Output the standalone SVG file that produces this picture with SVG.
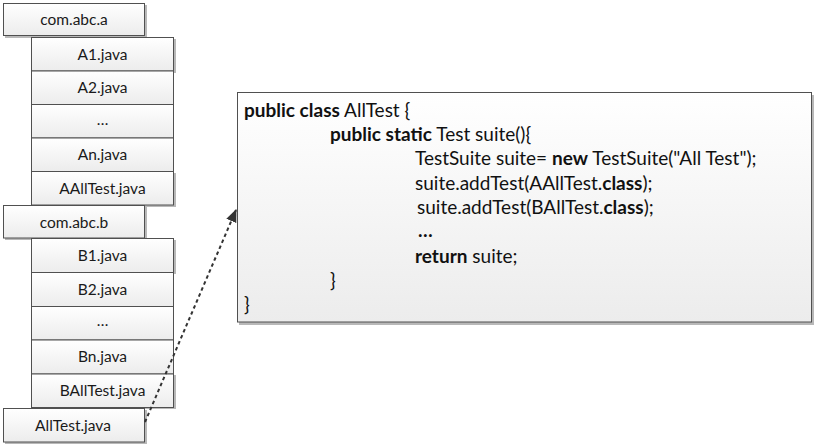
<svg xmlns="http://www.w3.org/2000/svg" width="818" height="448" viewBox="0 0 818 448">
<defs>
<linearGradient id="g" x1="0" y1="0" x2="0" y2="1">
<stop offset="0" stop-color="#ffffff"/>
<stop offset="1" stop-color="#ececec"/>
</linearGradient>
<marker id="arr" viewBox="0 0 12 10" refX="11" refY="5" markerWidth="13" markerHeight="11" markerUnits="userSpaceOnUse" orient="auto">
<path d="M0,0 L12,5 L0,10 Z" fill="#333333"/>
</marker>
</defs>
<style>
.box{fill:url(#g);stroke:#505050;stroke-width:1}
.sh{fill:#b8b8b8}
.lbl{font-family:Lato,"Liberation Sans",sans-serif;font-size:15.5px;fill:#1a1a1a;text-anchor:middle}
.code{font-family:Lato,"Liberation Sans",sans-serif;font-size:19px;fill:#111}
.b{font-weight:bold}
</style>
<rect width="818" height="448" fill="#ffffff"/>
<g id="pkg-a">
<rect class="sh" x="5" y="5" width="142" height="33"/>
<rect class="box" x="3.5" y="3.5" width="141" height="32"/>
<text class="lbl" x="74" y="25">com.abc.a</text>
</g>
<g id="a1"><rect class="sh" x="33" y="39" width="143" height="34"/><rect class="box" x="31.5" y="37.5" width="142" height="33.5"/><text class="lbl" x="102.5" y="59.5">A1.java</text></g>
<g id="a2"><rect class="box" x="31.5" y="71" width="142" height="33.5"/><text class="lbl" x="102.5" y="93">A2.java</text></g>
<g id="a-dots"><rect class="box" x="31.5" y="104.5" width="142" height="33.5"/><text class="lbl" x="102.5" y="124.5">…</text></g>
<g id="an"><rect class="box" x="31.5" y="138" width="142" height="33.5"/><text class="lbl" x="102.5" y="160">An.java</text></g>
<g id="aalltest"><rect class="sh" x="33" y="173" width="143" height="34"/><rect class="box" x="31.5" y="171.5" width="142" height="33.5"/><text class="lbl" x="102.5" y="193.5">AAllTest.java</text></g>
<g id="pkg-b">
<rect class="sh" x="5" y="207" width="142" height="33"/>
<rect class="box" x="3.5" y="205.5" width="141" height="32.5"/>
<text class="lbl" x="74" y="227.5">com.abc.b</text>
</g>
<g id="b1"><rect class="sh" x="33" y="240" width="143" height="34"/><rect class="box" x="31.5" y="238.5" width="142" height="34"/><text class="lbl" x="102.5" y="260.5">B1.java</text></g>
<g id="b2"><rect class="box" x="31.5" y="272.5" width="142" height="34"/><text class="lbl" x="102.5" y="294.5">B2.java</text></g>
<g id="b-dots"><rect class="box" x="31.5" y="306.5" width="142" height="33.5"/><text class="lbl" x="102.5" y="325.5">…</text></g>
<g id="bn"><rect class="box" x="31.5" y="340" width="142" height="34"/><text class="lbl" x="102.5" y="362">Bn.java</text></g>
<g id="balltest"><rect class="sh" x="33" y="375" width="143" height="34"/><rect class="box" x="31.5" y="374" width="142" height="33.5"/><text class="lbl" x="102.5" y="396">BAllTest.java</text></g>
<g id="alltest">
<rect class="sh" x="5" y="410" width="142" height="34"/>
<rect class="box" x="3.5" y="408.5" width="141" height="33.5"/>
<text class="lbl" x="73" y="430.5">AllTest.java</text>
</g>
<g id="code">
<rect class="sh" x="239" y="95" width="575" height="230"/>
<rect class="box" x="237.5" y="92.5" width="574" height="229.5"/>
<text class="code" x="244" y="116.5"><tspan class="b">public class</tspan> AllTest {</text>
<text class="code" x="330" y="140.5"><tspan class="b">public static</tspan> Test suite(){</text>
<text class="code" x="415" y="165">TestSuite suite= <tspan class="b">new</tspan> TestSuite("All Test");</text>
<text class="code" x="415" y="189.5">suite.addTest(AAllTest.<tspan class="b">class</tspan>);</text>
<text class="code" x="417" y="213.5">suite.addTest(BAllTest.<tspan class="b">class</tspan>);</text>
<text class="code b" x="418" y="237">…</text>
<text class="code" x="415" y="262.5"><tspan class="b">return</tspan> suite;</text>
<text class="code" x="330" y="286.5">}</text>
<text class="code" x="244" y="310.5">}</text>
</g>
<g id="connectors">
<path d="M145,422 L236,210" fill="none" stroke="#333333" stroke-width="2" stroke-dasharray="3.5,3" marker-end="url(#arr)"/>
</g>
</svg>
